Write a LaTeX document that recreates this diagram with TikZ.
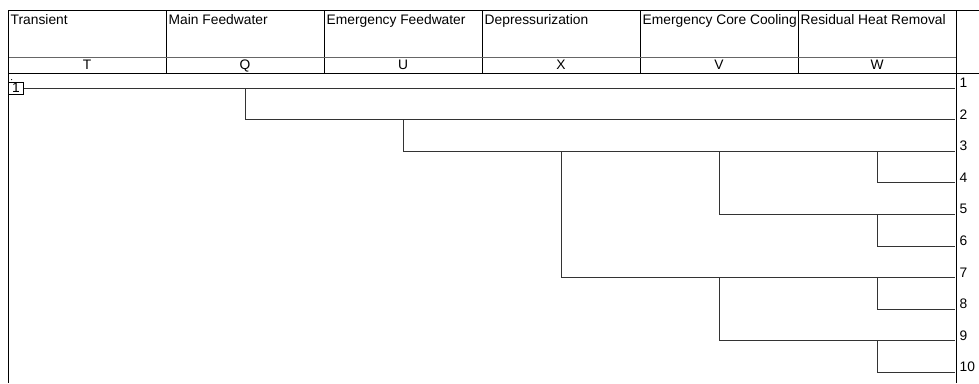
\documentclass[tikz,border=0pt]{standalone}
\usepackage{fontspec}
\setmainfont{Liberation Sans}
\begin{document}
\begin{tikzpicture}[x=1pt,y=-1pt,
  frame/.style={line width=0.9pt, black},
  subframe/.style={line width=0.9pt, black!60},
  branch/.style={line width=0.9pt, black!80},
  txt/.style={inner sep=0pt, font=\fontsize{13.8}{16}\selectfont},
  head/.style={txt, anchor=base west},
  code/.style={txt, anchor=base},
  seqno/.style={txt, anchor=base west},
  initbox/.style={draw, line width=0.8pt, txt, minimum width=15pt, minimum height=12pt, anchor=west}]
\useasboundingbox (0,0) rectangle (979,383);

% heading table: event names and their letters
\foreach \i/\name/\letter in {0/Transient/T, 1/Main Feedwater/Q, 2/Emergency Feedwater/U,
    3/Depressurization/X, 4/Emergency Core Cooling/V, 5/Residual Heat Removal/W}{
  \pgfmathsetmacro{\xl}{8+158*\i}
  \node[head] (h\i) at (\xl+2.5, 24.5) {\name};
  \node[code] (c\i) at (\xl+79, 69.5) {\letter};
  \draw[frame] (\xl+158, 10) -- (\xl+158, 73);
}
\draw[frame] (8,10) -- (979,10);
\draw[subframe] (8,57) -- (956,57);
\draw[frame] (8,73) -- (979,73);
\draw[frame] (8,10) -- (8,383);
\draw[frame] (956,73) -- (956,383);

% sequence end points and their numbers
\foreach \k in {1,...,10}{
  \pgfmathsetmacro{\yk}{88+31.6*(\k-1)}
  \coordinate (e\k) at (955,\yk);
  \node[seqno] (n\k) at (959.5,\yk-0.5) {\k};
}

% initiating event
\node[initbox] (init) at (8,88) {1};
\fill (11.6,79.6) circle (0.6pt);

% branch points
\coordinate (q1) at (245,88);
\coordinate (u2) at (403,119.6);
\coordinate (x3) at (561,151.2);
\coordinate (v3) at (719,151.2);
\coordinate (v7) at (719,277.6);
\coordinate (w3) at (877,151.2);
\coordinate (w5) at (877,214.4);
\coordinate (w7) at (877,277.6);
\coordinate (w9) at (877,340.8);

% event tree
\draw[branch] (init.east) -- (e1);
\draw[branch] (q1) |- (e2);
\draw[branch] (u2) |- (e3);
\draw[branch] (x3) |- (e7);
\draw[branch] (v3) |- (e5);
\draw[branch] (v7) |- (e9);
\draw[branch] (w3) |- (e4);
\draw[branch] (w5) |- (e6);
\draw[branch] (w7) |- (e8);
\draw[branch] (w9) |- (e10);
\end{tikzpicture}
\end{document}
